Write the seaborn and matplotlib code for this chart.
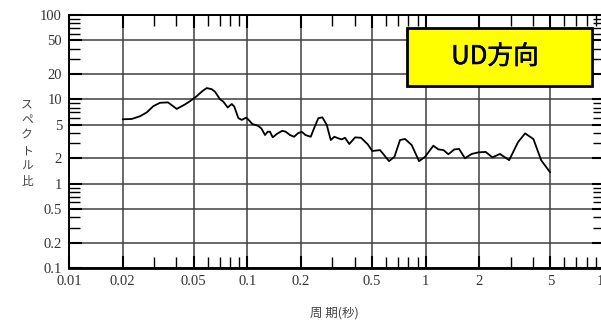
import numpy as np
import pandas as pd
import matplotlib
matplotlib.use("Agg")
import matplotlib.pyplot as plt
import matplotlib.ticker as mticker
import matplotlib.patheffects as pe
from matplotlib.patches import Rectangle
import seaborn as sns

# Spectral ratio (UD component) versus period
period = [0.020, 0.0225, 0.025, 0.0273, 0.0297, 0.0324, 0.0359, 0.0402, 0.0447,
          0.0477, 0.052, 0.0559, 0.0592, 0.0631, 0.0659, 0.0703, 0.0733, 0.0776,
          0.0818, 0.0845, 0.089, 0.093, 0.0983, 0.101, 0.1066, 0.115, 0.120,
          0.1257, 0.130, 0.134, 0.1388, 0.1462, 0.157, 0.164, 0.1736, 0.183,
          0.192, 0.2018, 0.212, 0.2268, 0.2366, 0.250, 0.2635, 0.279, 0.2936,
          0.3075, 0.3236, 0.338, 0.353, 0.373, 0.402, 0.434, 0.473, 0.502,
          0.555, 0.623, 0.668, 0.718, 0.766, 0.835, 0.918, 0.992, 1.104, 1.178,
          1.26, 1.34, 1.448, 1.54, 1.66, 1.81, 1.975, 2.17, 2.366, 2.61, 2.94,
          3.29, 3.61, 4.02, 4.44, 4.99]
ratio = [5.8, 5.85, 6.3, 7.0, 8.3, 9.1, 9.2, 7.7, 8.7,
         9.5, 10.9, 12.5, 13.6, 13.2, 12.3, 10.0, 9.4, 8.0,
         8.8, 8.2, 6.0, 5.7, 6.05, 5.8, 5.1, 4.85, 4.5,
         3.77, 4.13, 4.13, 3.54, 3.88, 4.24, 4.13, 3.77, 3.6,
         3.95, 4.13, 3.77, 3.6, 4.53, 5.96, 6.12, 4.96, 3.29,
         3.6, 3.45, 3.35, 3.5, 2.95, 3.54, 3.5, 2.93, 2.44,
         2.5, 1.85, 2.08, 3.29, 3.39, 2.87, 1.85, 2.08, 2.82, 2.55,
         2.5, 2.23, 2.55, 2.58, 2.0, 2.25, 2.35, 2.38, 2.05, 2.25, 1.9,
         3.09, 3.95, 3.38, 1.9, 1.36]

major_vals = [0.01, 0.02, 0.05, 0.1, 0.2, 0.5, 1, 2, 5, 10]
x_labels = ["0.01", "0.02", "0.05", "0.1", "0.2", "0.5", "1", "2", "5", "10"]
y_major = [0.1, 0.2, 0.5, 1, 2, 5, 10, 20, 50, 100]
y_labels = ["0.1", "0.2", "0.5", "1", "2", "5", "10", "20", "50", "100"]
minor_mult = [3, 4, 6, 7, 8, 9]

ylabel_text = "スペクトル比"
xlabel_text = "周 期(秒)"
legend_text = "UD方向"

df = pd.DataFrame({"period": period, "ratio": ratio})

sns.set_style("white")
plt.rcParams["font.family"] = ["Liberation Serif", "DejaVu Serif"]

fig = plt.figure(figsize=(6.01, 3.20), dpi=100)
ax = fig.add_axes([69 / 601, 52 / 320, 535 / 601, 253 / 320])

sns.lineplot(data=df, x="period", y="ratio", color="black", linewidth=1.3,
             ax=ax, legend=False)

ax.set_xscale("log")
ax.set_yscale("log")
ax.set_xlim(0.01, 10)
ax.set_ylim(0.1, 100)

ax.xaxis.set_major_locator(mticker.FixedLocator(major_vals))
ax.xaxis.set_major_formatter(mticker.FixedFormatter(x_labels))
ax.yaxis.set_major_locator(mticker.FixedLocator(y_major))
ax.yaxis.set_major_formatter(mticker.FixedFormatter(y_labels))

minor = [m * 10.0 ** e for e in range(-3, 3) for m in minor_mult]
ax.xaxis.set_minor_locator(mticker.FixedLocator(minor))
ax.yaxis.set_minor_locator(mticker.FixedLocator(minor))
ax.xaxis.set_minor_formatter(mticker.NullFormatter())
ax.yaxis.set_minor_formatter(mticker.NullFormatter())

ax.grid(True, which="major", color="#404040", linewidth=1.1)
ax.grid(False, which="minor")
ax.tick_params(which="both", direction="in", top=True, right=True,
               bottom=True, left=True, colors="black")
ax.tick_params(which="major", length=9, width=1.5, labelsize=10.5,
               labelcolor="#333333", pad=5)
ax.tick_params(which="minor", length=8, width=1.0)
ax.set_xlabel("")
ax.set_ylabel("")

for s in ax.spines.values():
    s.set_visible(True)
    s.set_color("black")
    s.set_linewidth(1.4)
ax.spines["bottom"].set_linewidth(2.0)

cjk = ["Noto Sans CJK JP", "DejaVu Sans"]
fig.text(0.045, 0.553, "\n".join(ylabel_text), family=cjk, fontsize=8.5,
         color="#444444", ha="center", va="center", linespacing=1.25)
fig.text(0.557, 0.022, xlabel_text, family=cjk, fontsize=9,
         color="#444444", ha="center", va="center")

fig.patches.append(Rectangle((407 / 601, 234 / 320), 185 / 601, 58 / 320,
                             transform=fig.transFigure, facecolor="#ffff00",
                             edgecolor="black", linewidth=2, zorder=5))
fig.text(495 / 601, 263 / 320, legend_text, family=cjk, fontsize=18.5,
         color="black", ha="center", va="center", zorder=6,
         path_effects=[pe.withStroke(linewidth=0.4, foreground="black")])

fig.savefig("out.png", dpi=100)
